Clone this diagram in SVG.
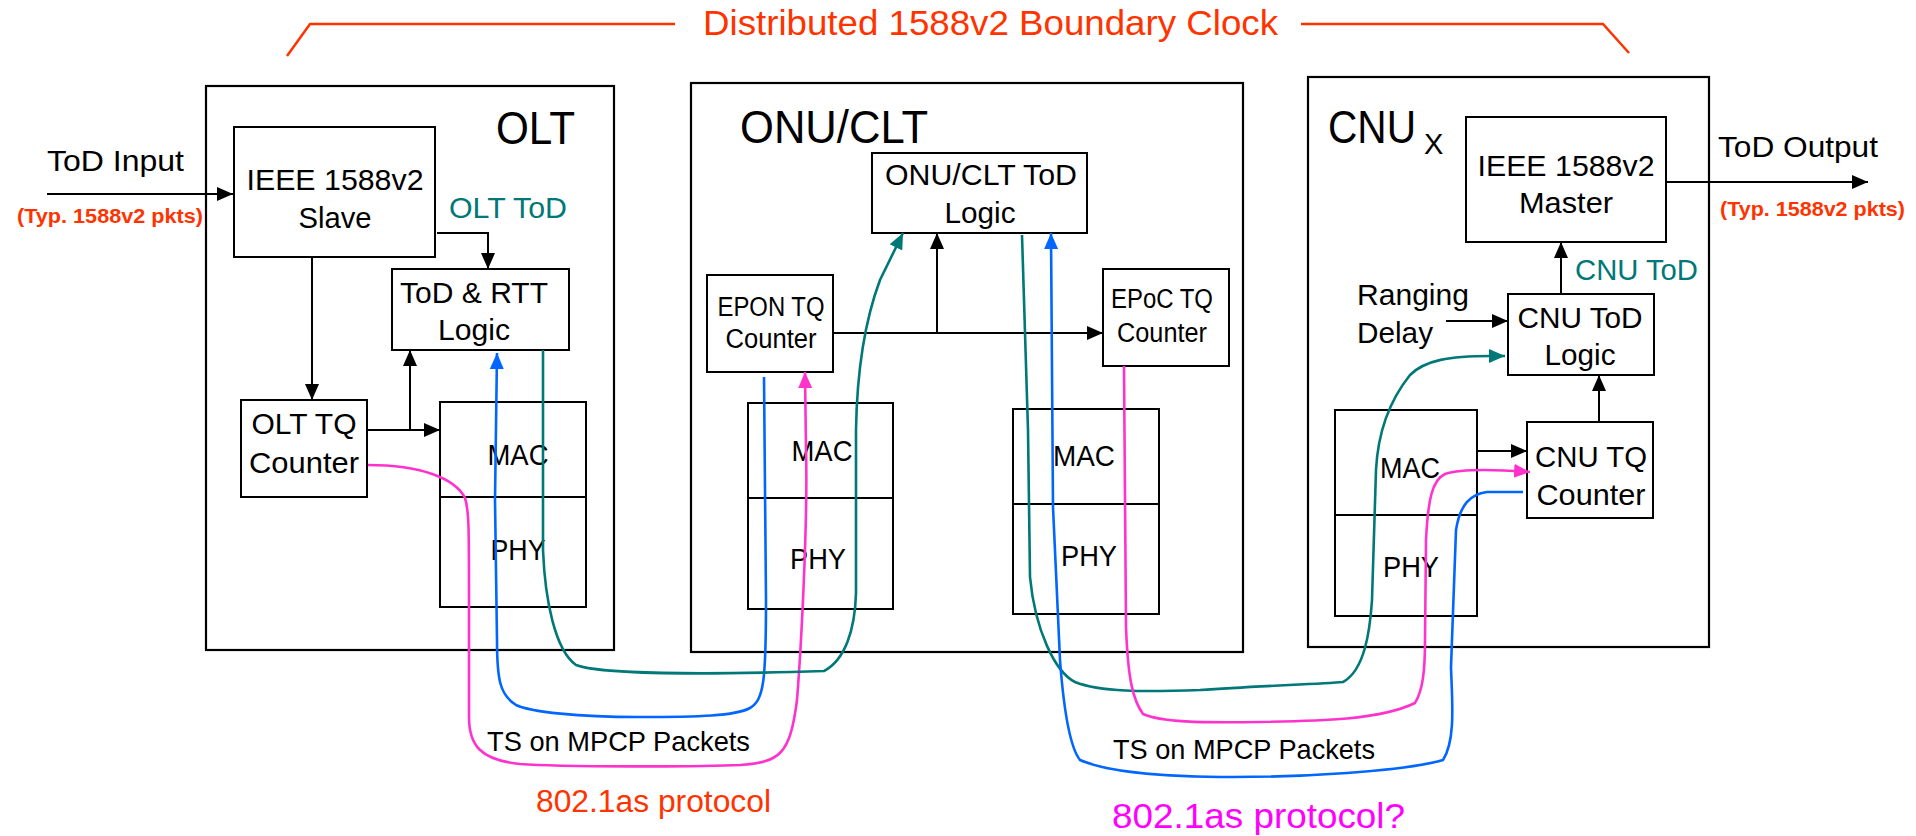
<svg xmlns="http://www.w3.org/2000/svg" width="1916" height="836" viewBox="0 0 1916 836">
<style>
text{font-family:"Liberation Sans",Arial,sans-serif;fill:#000}
.b{font-size:30px}
.s{font-size:27px}
.big{font-size:46px}
.box{fill:#fff;stroke:#000;stroke-width:2}
.frame{fill:none;stroke:#000;stroke-width:2.2}
.ar{fill:none;stroke:#000;stroke-width:2}
.teal{fill:none;stroke:#007878;stroke-width:2.6}
.blue{fill:none;stroke:#0066FF;stroke-width:2.6}
.pink{fill:none;stroke:#FF33CC;stroke-width:2.6}
.org{fill:#FF3300}
.tl{fill:#007878}
</style>
<defs>
<marker id="ak" markerUnits="userSpaceOnUse" markerWidth="16" markerHeight="16" refX="16" refY="8" orient="auto"><path d="M0,1 L16,8 L0,15 z" fill="#000"/></marker>
<marker id="at" markerUnits="userSpaceOnUse" markerWidth="16" markerHeight="16" refX="16" refY="8" orient="auto"><path d="M0,1 L16,8 L0,15 z" fill="#007878"/></marker>
<marker id="ab" markerUnits="userSpaceOnUse" markerWidth="16" markerHeight="16" refX="16" refY="8" orient="auto"><path d="M0,1 L16,8 L0,15 z" fill="#0066FF"/></marker>
<marker id="ap" markerUnits="userSpaceOnUse" markerWidth="16" markerHeight="16" refX="16" refY="8" orient="auto"><path d="M0,1 L16,8 L0,15 z" fill="#FF33CC"/></marker>
</defs>
<rect width="1916" height="836" fill="#fff"/>

<g id="title">
<polyline points="287,56 310,24 675,24" fill="none" stroke="#FF3300" stroke-width="2.5"/>
<polyline points="1301,24 1603,24 1629,53" fill="none" stroke="#FF3300" stroke-width="2.5"/>
<text x="703" y="35" font-size="35" class="org" textLength="575" lengthAdjust="spacingAndGlyphs">Distributed 1588v2 Boundary Clock</text>
</g>

<g id="olt">
<rect x="206" y="86" width="408" height="564" class="frame"/>
<text x="496" y="144" class="big" textLength="79" lengthAdjust="spacingAndGlyphs">OLT</text>
</g>
<g id="olt-slave">
<rect x="234" y="127" width="201" height="130" class="box"/>
<text x="335" y="190" class="b" text-anchor="middle" textLength="177" lengthAdjust="spacingAndGlyphs">IEEE 1588v2</text>
<text x="335" y="228" class="b" text-anchor="middle" textLength="73" lengthAdjust="spacingAndGlyphs">Slave</text>
</g>
<g id="olt-todrtt">
<rect x="392" y="269" width="177" height="81" class="box"/>
<text x="474" y="303" class="b" text-anchor="middle" textLength="148" lengthAdjust="spacingAndGlyphs">ToD &amp; RTT</text>
<text x="474" y="340" class="b" text-anchor="middle" textLength="72" lengthAdjust="spacingAndGlyphs">Logic</text>
</g>
<g id="olt-tq">
<rect x="241" y="400" width="126" height="97" class="box"/>
<text x="304" y="434" class="b" text-anchor="middle" textLength="105" lengthAdjust="spacingAndGlyphs">OLT TQ</text>
<text x="304" y="473" class="b" text-anchor="middle" textLength="110" lengthAdjust="spacingAndGlyphs">Counter</text>
</g>
<g id="olt-macphy">
<rect x="440" y="402" width="146" height="205" class="box"/>
<line x1="440" y1="497" x2="586" y2="497" stroke="#000" stroke-width="2"/>
<text x="518" y="465" class="b" text-anchor="middle" textLength="61" lengthAdjust="spacingAndGlyphs">MAC</text>
<text x="518" y="560" class="b" text-anchor="middle" textLength="55" lengthAdjust="spacingAndGlyphs">PHY</text>
</g>

<g id="onu">
<rect x="691" y="83" width="552" height="569" class="frame"/>
<text x="740" y="143" class="big" textLength="188" lengthAdjust="spacingAndGlyphs">ONU/CLT</text>
</g>
<g id="onu-tod">
<rect x="872" y="153" width="215" height="80" class="box"/>
<text x="981" y="185" class="b" text-anchor="middle" textLength="192" lengthAdjust="spacingAndGlyphs">ONU/CLT ToD</text>
<text x="980" y="223" class="b" text-anchor="middle" textLength="71" lengthAdjust="spacingAndGlyphs">Logic</text>
</g>
<g id="epon-tq">
<rect x="707" y="275" width="126" height="97" class="box"/>
<text x="771" y="316" class="s" text-anchor="middle" textLength="107" lengthAdjust="spacingAndGlyphs">EPON TQ</text>
<text x="771" y="348" class="s" text-anchor="middle" textLength="91" lengthAdjust="spacingAndGlyphs">Counter</text>
</g>
<g id="epoc-tq">
<rect x="1103" y="269" width="126" height="97" class="box"/>
<text x="1162" y="308" class="s" text-anchor="middle" textLength="102" lengthAdjust="spacingAndGlyphs">EPoC TQ</text>
<text x="1162" y="342" class="s" text-anchor="middle" textLength="90" lengthAdjust="spacingAndGlyphs">Counter</text>
</g>
<g id="onu-macphy-l">
<rect x="748" y="403" width="145" height="206" class="box"/>
<line x1="748" y1="498" x2="894" y2="498" stroke="#000" stroke-width="2"/>
<text x="822" y="461" class="b" text-anchor="middle" textLength="61" lengthAdjust="spacingAndGlyphs">MAC</text>
<text x="818" y="569" class="b" text-anchor="middle" textLength="56" lengthAdjust="spacingAndGlyphs">PHY</text>
</g>
<g id="onu-macphy-r">
<rect x="1013" y="409" width="146" height="205" class="box"/>
<line x1="1013" y1="504" x2="1160" y2="504" stroke="#000" stroke-width="2"/>
<text x="1084" y="466" class="b" text-anchor="middle" textLength="62" lengthAdjust="spacingAndGlyphs">MAC</text>
<text x="1089" y="566" class="b" text-anchor="middle" textLength="56" lengthAdjust="spacingAndGlyphs">PHY</text>
</g>

<g id="cnu">
<rect x="1308" y="77" width="401" height="570" class="frame"/>
<text x="1328" y="143" class="big"><tspan textLength="88" lengthAdjust="spacingAndGlyphs">CNU</tspan><tspan x="1424" y="154" font-size="29">X</tspan></text>
</g>
<g id="cnu-master">
<rect x="1466" y="117" width="200" height="125" class="box"/>
<text x="1566" y="176" class="b" text-anchor="middle" textLength="177" lengthAdjust="spacingAndGlyphs">IEEE 1588v2</text>
<text x="1566" y="213" class="b" text-anchor="middle" textLength="94" lengthAdjust="spacingAndGlyphs">Master</text>
</g>
<g id="cnu-tod">
<rect x="1508" y="294" width="146" height="81" class="box"/>
<text x="1580" y="328" class="b" text-anchor="middle" textLength="125" lengthAdjust="spacingAndGlyphs">CNU ToD</text>
<text x="1580" y="365" class="b" text-anchor="middle" textLength="71" lengthAdjust="spacingAndGlyphs">Logic</text>
</g>
<g id="cnu-tq">
<rect x="1527" y="422" width="126" height="96" class="box"/>
<text x="1591" y="467" class="b" text-anchor="middle" textLength="112" lengthAdjust="spacingAndGlyphs">CNU TQ</text>
<text x="1591" y="505" class="b" text-anchor="middle" textLength="109" lengthAdjust="spacingAndGlyphs">Counter</text>
</g>
<g id="cnu-macphy">
<rect x="1335" y="410" width="142" height="206" class="box"/>
<line x1="1335" y1="515" x2="1477" y2="515" stroke="#000" stroke-width="2"/>
<text x="1410" y="478" class="b" text-anchor="middle" textLength="60" lengthAdjust="spacingAndGlyphs">MAC</text>
<text x="1411" y="577" class="b" text-anchor="middle" textLength="56" lengthAdjust="spacingAndGlyphs">PHY</text>
</g>

<g id="labels">
<text x="47" y="171" class="b" textLength="137" lengthAdjust="spacingAndGlyphs">ToD Input</text>
<text x="17" y="223" font-size="20" font-weight="bold" class="org" textLength="186" lengthAdjust="spacingAndGlyphs">(Typ. 1588v2 pkts)</text>
<text x="449" y="218" class="b tl" textLength="118" lengthAdjust="spacingAndGlyphs">OLT ToD</text>
<text x="1718" y="157" class="b" textLength="160" lengthAdjust="spacingAndGlyphs">ToD Output</text>
<text x="1720" y="216" font-size="20" font-weight="bold" class="org" textLength="185" lengthAdjust="spacingAndGlyphs">(Typ. 1588v2 pkts)</text>
<text x="1575" y="280" class="b tl" textLength="123" lengthAdjust="spacingAndGlyphs">CNU ToD</text>
<text x="1357" y="305" class="b" textLength="112" lengthAdjust="spacingAndGlyphs">Ranging</text>
<text x="1357" y="343" class="b" textLength="76" lengthAdjust="spacingAndGlyphs">Delay</text>
<text x="487" y="751" font-size="28" textLength="263" lengthAdjust="spacingAndGlyphs">TS on MPCP Packets</text>
<text x="1113" y="759" font-size="28" textLength="262" lengthAdjust="spacingAndGlyphs">TS on MPCP Packets</text>
<text x="536" y="812" font-size="31" class="org" textLength="235" lengthAdjust="spacingAndGlyphs">802.1as protocol</text>
<text x="1112" y="828" font-size="35" style="fill:#FF00FF" textLength="293" lengthAdjust="spacingAndGlyphs">802.1as protocol?</text>
</g>

<g id="connectors">
<line x1="47" y1="194" x2="233" y2="194" class="ar" marker-end="url(#ak)"/>
<polyline points="437,233 488,233 488,269" class="ar" marker-end="url(#ak)"/>
<line x1="312" y1="257" x2="312" y2="400" class="ar" marker-end="url(#ak)"/>
<line x1="367" y1="430" x2="440" y2="430" class="ar" marker-end="url(#ak)"/>
<line x1="410" y1="431" x2="410" y2="350" class="ar" marker-end="url(#ak)"/>
<line x1="833" y1="333" x2="1103" y2="333" class="ar" marker-end="url(#ak)"/>
<line x1="937" y1="334" x2="937" y2="233" class="ar" marker-end="url(#ak)"/>
<line x1="1666" y1="182" x2="1868" y2="182" class="ar" marker-end="url(#ak)"/>
<line x1="1561" y1="294" x2="1561" y2="242" class="ar" marker-end="url(#ak)"/>
<line x1="1446" y1="321" x2="1508" y2="321" class="ar" marker-end="url(#ak)"/>
<line x1="1599" y1="422" x2="1599" y2="375" class="ar" marker-end="url(#ak)"/>
<line x1="1477" y1="451" x2="1527" y2="451" class="ar" marker-end="url(#ak)"/>

<path class="pink" marker-end="url(#ap)" d="M368,465 C420,465 455,478 465,498 C469,510 469,530 469,600 L469,717 C469,745 480,760 520,764 C560,767 700,767 740,765 C780,762 790,755 797,700 C801,650 808,520 806,450 L805,372"/>
<path class="blue" marker-end="url(#ab)" d="M764,377 L766,600 C766,680 764,700 750,708 C735,716 700,717 637,717 C580,717 530,712 516,705 C500,695 497,680 497,640 L495,500 L497,353"/>
<path class="teal" marker-end="url(#at)" d="M543,350 L543,550 C545,600 555,650 576,665 C600,674 700,675 824,671 C845,660 855,630 856,593 L856,430 C857,370 865,320 880,280 L903,233"/>

<path class="teal" marker-end="url(#at)" d="M1022,235 L1028,430 L1030,577 C1035,630 1055,672 1075,682 C1100,692 1143,692 1200,690 C1260,686 1320,684 1343,682 C1365,670 1370,630 1372,600 L1376,470 C1378,430 1390,400 1410,375 C1425,360 1450,356 1490,356 L1505,356"/>
<path class="pink" marker-end="url(#ap)" d="M1124,366 L1126,627 C1128,680 1133,700 1143,714 C1160,722 1200,723 1260,722 C1320,721 1380,720 1415,703 C1423,690 1425,670 1425,640 L1426,540 C1428,500 1432,480 1445,474 C1460,469 1490,469 1530,472"/>
<path class="blue" marker-end="url(#ab)" d="M1523,492 L1487,492 C1470,494 1460,505 1456,530 L1451,667 C1452,700 1456,740 1443,760 C1400,772 1300,777 1233,777 C1170,777 1110,773 1080,760 C1068,745 1063,700 1060,660 L1053,507 L1051,233"/>
</g>
</svg>
